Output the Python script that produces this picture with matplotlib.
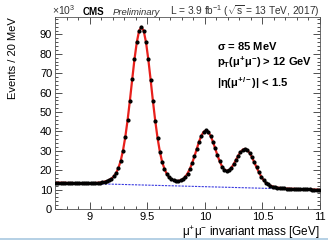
import numpy as np
import matplotlib.pyplot as plt
from matplotlib.ticker import MultipleLocator
from matplotlib.lines import Line2D

plt.rcParams['font.family'] = ['Liberation Sans', 'DejaVu Sans']
plt.rcParams['mathtext.fontset'] = 'custom'
plt.rcParams['mathtext.rm'] = 'Liberation Sans'
plt.rcParams['mathtext.it'] = 'Liberation Sans:italic'
plt.rcParams['mathtext.bf'] = 'Liberation Sans:bold'

# dimuon mass, 20 MeV bins from 8.70 to 11.00 GeV (bin centres)
mass_lo = 8.70
bin_width = 0.02
# events per bin, in units of 10^3
events = [
    13.6, 13.6, 13.5, 13.5, 13.5, 13.4, 13.4, 13.4, 13.3, 13.3,
    13.3, 13.3, 13.3, 13.3, 13.3, 13.3, 13.3, 13.4, 13.5, 13.6,
    13.8, 14.1, 14.4, 14.9, 15.7, 16.8, 18.5, 21.1, 24.8, 30.1,
    37.1, 45.8, 55.9, 66.8, 77.3, 86.0, 91.9, 93.9, 91.8, 85.9,
    77.1, 66.6, 55.6, 45.5, 36.6, 29.6, 24.2, 20.7, 18.1, 16.4,
    15.4, 14.8, 14.5, 14.4, 14.8, 15.4, 16.5, 18.3, 20.6, 23.6,
    27.1, 30.9, 34.7, 37.7, 39.8, 40.5, 39.8, 37.8, 34.8, 31.3,
    27.6, 24.5, 21.9, 20.3, 19.7, 20.0, 21.2, 23.0, 25.2, 27.5,
    29.3, 30.6, 31.0, 30.4, 28.8, 26.7, 24.0, 21.4, 18.9, 16.7,
    14.9, 13.6, 12.7, 12.0, 11.6, 11.2, 11.0, 10.9, 10.7, 10.6,
    10.5, 10.5, 10.4, 10.4, 10.3, 10.3, 10.2, 10.2, 10.1, 10.1,
    10.1, 10.0, 10.0, 10.0, 9.9,
]
# background component of the fit (straight line)
bkg_mass = [8.70, 11.00]
bkg_events = [13.6, 9.9]

centres = mass_lo + bin_width * (np.arange(len(events)) + 0.5)
events = np.array(events)

fig = plt.figure(figsize=(3.28, 2.40), dpi=100)
ax = fig.add_axes([55 / 328, 31 / 240, 265 / 328, 192 / 240])

ax.plot(centres, events, color='#e8201c', lw=1.6, zorder=2)
ax.plot(bkg_mass, bkg_events, color='#3a3ae0', lw=0.8, ls=(0, (2, 1)), zorder=1)
ax.errorbar(centres, events, yerr=np.sqrt(events * 1000) / 1000, fmt='o',
            ms=2.0, color='black', elinewidth=0.6, capsize=0, zorder=3)

ax.set_xlim(8.7, 11.0)
ax.set_ylim(0, 99)
ax.xaxis.set_major_locator(MultipleLocator(0.5))
ax.xaxis.set_minor_locator(MultipleLocator(0.1))
ax.yaxis.set_major_locator(MultipleLocator(10))
ax.yaxis.set_minor_locator(MultipleLocator(2))
ax.set_xticks([9, 9.5, 10, 10.5, 11])
ax.set_xticklabels(['9', '9.5', '10', '10.5', '11'])
ax.tick_params(which='both', direction='in', top=True, right=True,
               labelsize=8, width=0.6, colors='#333333', labelcolor='black')
ax.tick_params(which='major', length=5, pad=2)
ax.tick_params(which='minor', length=2.5)
for s in ax.spines.values():
    s.set_linewidth(0.6)
    s.set_color('#555555')

fig.text(13 / 328, 1 - 17 / 240, 'Events / 20 MeV', rotation=90,
         ha='center', va='top', fontsize=8)
fig.text(320 / 328, 1 - 233 / 240, r'$\mathregular{\mu^{+}\mu^{-}}$ invariant mass [GeV]',
         ha='right', va='center', fontsize=8.5)

fig.text(52 / 328, 1 - 15 / 240, r'$\mathregular{\times10^{3}}$', ha='left',
         va='baseline', fontsize=7.5, color='#333333')
fig.text(83 / 328, 1 - 15 / 240, 'CMS', ha='left', va='baseline',
         fontsize=7, fontweight='bold')
fig.text(113 / 328, 1 - 15 / 240, 'Preliminary', ha='left', va='baseline',
         fontsize=6.8, style='italic', color='#333333')
fig.text(320 / 328, 1 - 15 / 240,
         r'L = 3.9 fb$\mathregular{^{-1}}$ ($\mathregular{\sqrt{s}}$ = 13 TeV, 2017)',
         ha='right', va='baseline', fontsize=7.3, color='#333333')

ax.text(217 / 328, 1 - 46 / 240, r'$\mathbf{\sigma}$ = 85 MeV', transform=fig.transFigure,
        ha='left', va='center', fontsize=8, fontweight='bold')
ax.text(217 / 328, 1 - 62 / 240, r'$\mathbf{p_{T}(\mu^{+}\mu^{-})}$ > 12 GeV',
        transform=fig.transFigure, ha='left', va='center', fontsize=8, fontweight='bold')
ax.text(217 / 328, 1 - 83 / 240, r'$\mathbf{|\eta(\mu^{+/-})|}$ < 1.5',
        transform=fig.transFigure, ha='left', va='center', fontsize=8, fontweight='bold')

fig.add_artist(Line2D([0, 1], [1 - 238.5 / 240, 1 - 238.5 / 240], transform=fig.transFigure,
                      color='#a8c8e0', lw=1.2))

fig.savefig('out.png', dpi=100)
